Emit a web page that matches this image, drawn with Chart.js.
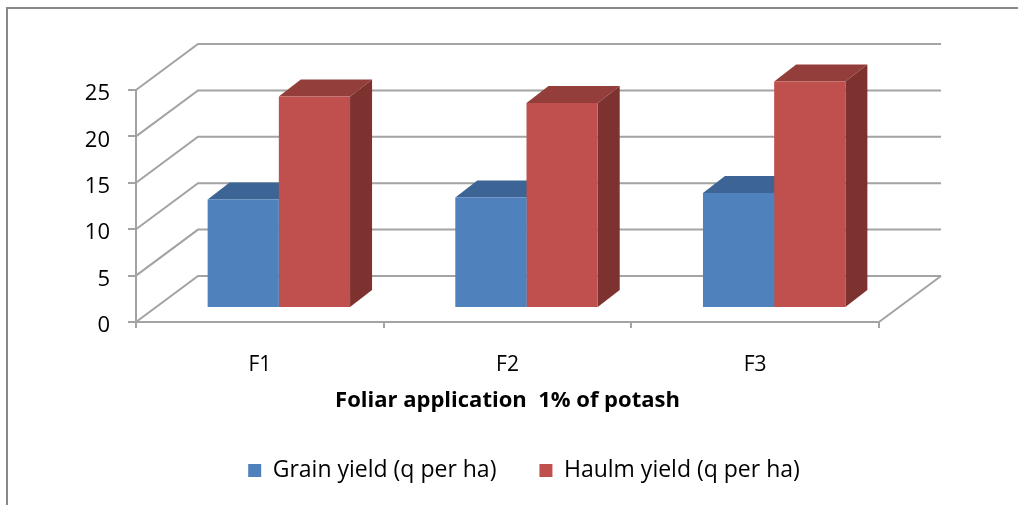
<!DOCTYPE html>
<html>
<head>
<meta charset="utf-8">
<script src="https://cdn.jsdelivr.net/npm/chart.js@4.4.0/dist/chart.umd.min.js"></script>
<style>
  html, body { margin: 0; padding: 0; background: #fff; }
  canvas { display: block; }
</style>
</head>
<body>
<canvas id="myChart" width="1018" height="505"></canvas>
<script>
const categories = ['F1', 'F2', 'F3'];
const grainYield = [11.7, 11.9, 12.4];
const haulmYield = [22.8, 22.1, 24.4];
const seriesNames = ['Grain yield (q per ha)', 'Haulm yield (q per ha)'];
const yMin = 0, yMax = 25, yStep = 5;
const xTitle = 'Foliar application  1% of potash';

const frontColors = ['#4F81BD', '#C0504D'];
const topColors = ['#3C6494', '#943E3B'];
const sideColors = ['#3A5F8C', '#7D3230'];
const lineColor = '#a3a3a3';

// oblique offsets for the fake 3d
const wallDepth = { x: 62, y: -46 };
const barShift = { x: 19, y: -14 };
const barDepth = { x: 22, y: -17 };

const fontFamily = "'Open Sans', sans-serif";

const threeD = {
  id: 'threeD',
  beforeDraw(chart) {
    const ctx = chart.ctx;
    ctx.save();
    ctx.fillStyle = '#fff';
    ctx.fillRect(0, 0, chart.width, chart.height);
    ctx.strokeStyle = '#888';
    ctx.lineWidth = 2;
    ctx.beginPath();
    ctx.moveTo(7, chart.height);
    ctx.lineTo(7, 8);
    ctx.lineTo(chart.width, 8);
    ctx.stroke();
    ctx.restore();
  },
  beforeDatasetsDraw(chart) {
    const { ctx, chartArea: a } = chart;
    const y = chart.scales.y;
    ctx.save();
    ctx.strokeStyle = lineColor;
    ctx.lineWidth = 2;
    ctx.beginPath();
    y.ticks.forEach(t => {
      const py = y.getPixelForValue(t.value);
      ctx.moveTo(a.left, py);
      ctx.lineTo(a.left + wallDepth.x, py + wallDepth.y);
      ctx.lineTo(a.right + wallDepth.x, py + wallDepth.y);
    });
    const p0 = y.getPixelForValue(0);
    ctx.moveTo(a.right, p0);
    ctx.lineTo(a.right + wallDepth.x, p0 + wallDepth.y);
    ctx.stroke();

    // bars sit a bit behind the front plane
    ctx.translate(barShift.x, barShift.y);
    chart.data.datasets.forEach((ds, i) => {
      const meta = chart.getDatasetMeta(i);
      meta.data.forEach(bar => {
        const l = bar.x - bar.width / 2;
        const r = bar.x + bar.width / 2;
        const t = bar.y, b = bar.base;
        ctx.fillStyle = topColors[i];
        ctx.beginPath();
        ctx.moveTo(l, t);
        ctx.lineTo(l + barDepth.x, t + barDepth.y);
        ctx.lineTo(r + barDepth.x, t + barDepth.y);
        ctx.lineTo(r, t);
        ctx.closePath();
        ctx.fill();
        ctx.fillStyle = sideColors[i];
        ctx.beginPath();
        ctx.moveTo(r, t);
        ctx.lineTo(r + barDepth.x, t + barDepth.y);
        ctx.lineTo(r + barDepth.x, b + barDepth.y);
        ctx.lineTo(r, b);
        ctx.closePath();
        ctx.fill();
      });
    });
  },
  afterDatasetsDraw(chart) {
    chart.ctx.restore();
  }
};

const ctx = document.getElementById('myChart').getContext('2d');
new Chart(ctx, {
  type: 'bar',
  data: {
    labels: categories,
    datasets: [
      { label: seriesNames[0], data: grainYield, backgroundColor: frontColors[0], borderColor: frontColors[0], borderWidth: 0, clip: false },
      { label: seriesNames[1], data: haulmYield, backgroundColor: frontColors[1], borderColor: frontColors[1], borderWidth: 0, clip: false }
    ]
  },
  options: {
    responsive: false,
    animation: false,
    devicePixelRatio: 1,
    barPercentage: 1,
    categoryPercentage: 0.575,
    layout: { padding: { left: 30, right: 0, top: 90, bottom: 13 } },
    scales: {
      x: {
        grid: { offset: true, drawOnChartArea: false, tickLength: 6, color: lineColor, lineWidth: 2 },
        border: { color: lineColor, width: 2 },
        ticks: { color: '#000', padding: 24, font: { family: fontFamily, size: 21 } },
        title: {
          display: true,
          text: xTitle,
          color: '#000',
          font: { family: fontFamily, size: 22, weight: 'bold' },
          padding: { top: 0, bottom: 2 }
        },
        afterFit(s) { s.height = 94; }
      },
      y: {
        min: yMin,
        max: yMax,
        grid: { drawOnChartArea: false, tickLength: 8, color: lineColor, lineWidth: 2 },
        border: { color: lineColor, width: 2 },
        ticks: { stepSize: yStep, color: '#000', padding: 18, labelOffset: 4, font: { family: fontFamily, size: 22 } },
        afterFit(s) { s.width = 106; }
      },
      y2: {
        position: 'right',
        grid: { display: false },
        border: { display: false },
        ticks: { display: false },
        afterFit(s) { s.width = 139; }
      }
    },
    plugins: {
      legend: {
        position: 'bottom',
        labels: {
          boxWidth: 13,
          boxHeight: 13,
          padding: 43,
          color: '#000',
          font: { family: fontFamily, size: 23 }
        }
      },
      tooltip: { enabled: false }
    }
  },
  plugins: [threeD]
});
</script>
</body>
</html>
